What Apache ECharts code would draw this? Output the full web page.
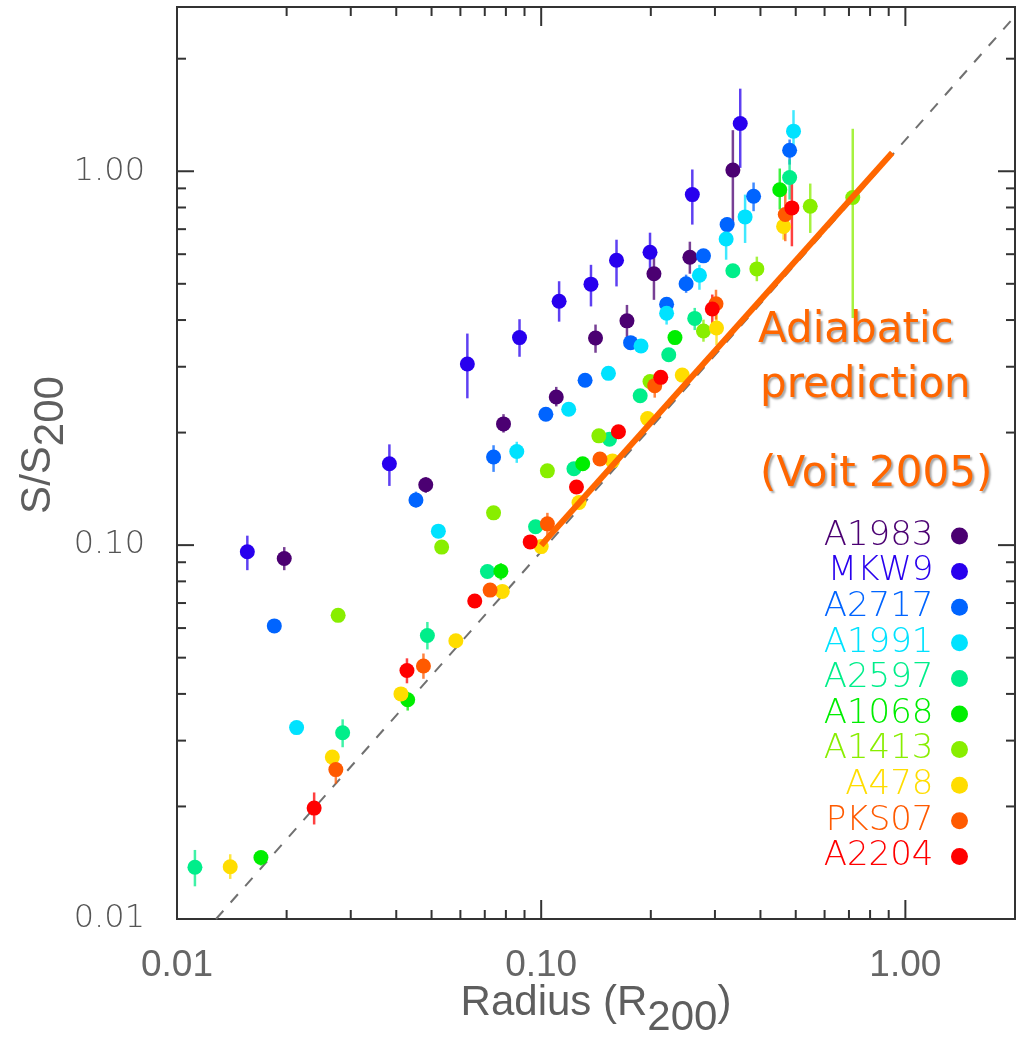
<!DOCTYPE html>
<html>
<head>
<meta charset="utf-8">
<script src="https://cdn.jsdelivr.net/npm/echarts@6/dist/echarts.min.js"></script>
<style>
  html, body { margin: 0; padding: 0; background: #ffffff; }
  #chart { width: 1020px; height: 1038px; }
</style>
</head>
<body>
<div id="chart"></div>
<script>
// Entropy profiles S/S200 versus radius r/R200 for ten clusters.
// Each entry: [radius, S/S200, lower end of error bar, upper end of error bar]
const A1983 = [
  [0.0197, 0.0921, 0.0857, 0.0988],
  [0.0482, 0.145, 0.138, 0.152],
  [0.0788, 0.211, 0.200, 0.224],
  [0.110, 0.249, 0.235, 0.265],
  [0.141, 0.358, 0.327, 0.389],
  [0.172, 0.398, 0.354, 0.439],
  [0.204, 0.532, 0.453, 0.592],
  [0.256, 0.589, 0.532, 0.648],
  [0.336, 1.007, 0.712, 1.288]
];
const MKW9 = [
  [0.0156, 0.0960, 0.0857, 0.106],
  [0.0383, 0.165, 0.144, 0.186],
  [0.0627, 0.305, 0.247, 0.368],
  [0.0872, 0.359, 0.319, 0.402],
  [0.112, 0.449, 0.396, 0.508],
  [0.137, 0.499, 0.435, 0.562],
  [0.161, 0.578, 0.492, 0.656],
  [0.199, 0.607, 0.539, 0.685],
  [0.260, 0.866, 0.720, 1.011],
  [0.352, 1.342, 1.021, 1.663]
];
const A2717 = [
  [0.0185, 0.0608, 0.0608, 0.0608],
  [0.0453, 0.132, 0.126, 0.139],
  [0.0740, 0.172, 0.157, 0.185],
  [0.103, 0.224, 0.224, 0.224],
  [0.132, 0.276, 0.276, 0.276],
  [0.176, 0.348, 0.348, 0.348],
  [0.221, 0.441, 0.441, 0.441],
  [0.250, 0.500, 0.473, 0.529],
  [0.279, 0.594, 0.594, 0.594],
  [0.324, 0.720, 0.690, 0.752],
  [0.383, 0.857, 0.782, 0.933],
  [0.481, 1.138, 1.042, 1.216]
];
const A1991 = [
  [0.0213, 0.0325, 0.0325, 0.0325],
  [0.0522, 0.109, 0.109, 0.109],
  [0.0857, 0.178, 0.166, 0.189],
  [0.119, 0.231, 0.231, 0.231],
  [0.153, 0.288, 0.288, 0.288],
  [0.188, 0.341, 0.341, 0.341],
  [0.221, 0.417, 0.389, 0.445],
  [0.272, 0.527, 0.482, 0.562],
  [0.322, 0.659, 0.580, 0.712],
  [0.363, 0.755, 0.643, 0.866],
  [0.493, 1.280, 1.143, 1.457]
];
const A2597 = [
  [0.0112, 0.01375, 0.01223, 0.0153],
  [0.0285, 0.0315, 0.0288, 0.0342],
  [0.0487, 0.0573, 0.0526, 0.0623],
  [0.0712, 0.0850, 0.0850, 0.0850],
  [0.0965, 0.112, 0.112, 0.112],
  [0.123, 0.160, 0.160, 0.160],
  [0.154, 0.192, 0.192, 0.192],
  [0.187, 0.251, 0.251, 0.251],
  [0.224, 0.323, 0.323, 0.323],
  [0.264, 0.404, 0.376, 0.431],
  [0.336, 0.542, 0.520, 0.565],
  [0.481, 0.962, 0.840, 1.075]
];
const A1068 = [
  [0.0170, 0.0146, 0.0139, 0.0152],
  [0.0430, 0.0386, 0.0361, 0.0405],
  [0.0775, 0.0852, 0.0806, 0.0895],
  [0.130, 0.165, 0.165, 0.165],
  [0.233, 0.359, 0.359, 0.359],
  [0.452, 0.892, 0.790, 1.017]
];
const A1413 = [
  [0.0277, 0.0649, 0.0649, 0.0649],
  [0.0533, 0.0988, 0.0988, 0.0988],
  [0.0740, 0.122, 0.122, 0.122],
  [0.104, 0.158, 0.158, 0.158],
  [0.144, 0.196, 0.196, 0.196],
  [0.199, 0.274, 0.274, 0.274],
  [0.279, 0.374, 0.350, 0.401],
  [0.391, 0.548, 0.508, 0.591],
  [0.548, 0.806, 0.684, 0.927],
  [0.717, 0.851, 0.405, 1.299]
];
const A478 = [
  [0.0140, 0.0138, 0.0128, 0.0149],
  [0.0267, 0.0271, 0.0271, 0.0271],
  [0.0412, 0.0400, 0.0400, 0.0400],
  [0.0583, 0.0555, 0.0555, 0.0555],
  [0.0782, 0.0752, 0.0752, 0.0752],
  [0.100, 0.0991, 0.0991, 0.0991],
  [0.127, 0.130, 0.130, 0.130],
  [0.157, 0.168, 0.168, 0.168],
  [0.196, 0.218, 0.218, 0.218],
  [0.244, 0.285, 0.285, 0.285],
  [0.303, 0.381, 0.343, 0.413],
  [0.463, 0.712, 0.656, 0.775]
];
const PKS07 = [
  [0.0273, 0.0251, 0.0230, 0.0271],
  [0.0475, 0.0475, 0.0439, 0.0513],
  [0.0724, 0.0758, 0.0758, 0.0758],
  [0.104, 0.114, 0.104, 0.122],
  [0.145, 0.170, 0.170, 0.170],
  [0.205, 0.267, 0.248, 0.287],
  [0.302, 0.442, 0.401, 0.482],
  [0.468, 0.766, 0.650, 0.884]
];
const A2204 = [
  [0.0238, 0.0198, 0.0179, 0.0218],
  [0.0428, 0.0462, 0.0427, 0.0498],
  [0.0657, 0.0709, 0.0709, 0.0709],
  [0.0933, 0.102, 0.102, 0.102],
  [0.125, 0.143, 0.143, 0.143],
  [0.163, 0.201, 0.201, 0.201],
  [0.213, 0.281, 0.281, 0.281],
  [0.295, 0.428, 0.389, 0.468],
  [0.488, 0.798, 0.630, 0.970]
];

const clusterNames = ['A1983', 'MKW9', 'A2717', 'A1991', 'A2597', 'A1068', 'A1413', 'A478', 'PKS07', 'A2204'];
const clusterData = [A1983, MKW9, A2717, A1991, A2597, A1068, A1413, A478, PKS07, A2204];
const clusterColors = ['#4B0072', '#2800EE', '#0064FF', '#00E2FF', '#00EE8A', '#00EE00', '#88EE00', '#FFDD00', '#FF5A00', '#FF0000'];

// Adiabatic (pure gravitational) entropy prediction and reference power law
const adiabaticLine = [[0.1, 0.1], [0.92, 1.12]];
const dashedLine = [[0.0128, 0.01], [2.0, 2.6]];

// Axis ranges and ticks
const X_MIN = 0.01, X_MAX = 2.0;
const Y_MIN = 0.01, Y_MAX = 2.75;
const majorTicks = [0.01, 0.1, 1];
const xMinorTicks = [0.02, 0.03, 0.04, 0.05, 0.06, 0.07, 0.08, 0.09, 0.2, 0.3, 0.4, 0.5, 0.6, 0.7, 0.8, 0.9];
const yMinorTicks = [0.02, 0.03, 0.04, 0.05, 0.06, 0.07, 0.08, 0.09, 0.2, 0.3, 0.4, 0.5, 0.6, 0.7, 0.8, 0.9, 2];
const tickLabels = { '-2': '0.01', '-1': '0.10', '0': '1.00' };

const AXIS_TEXT = '#5e5e5e';
const FONT = '"DejaVu Sans", "Liberation Sans", sans-serif';
const PLAIN = '"Liberation Sans", Arial, sans-serif';

function decadeLabel(v) {
  const lg = Math.log10(v);
  const e = Math.round(lg);
  if (Math.abs(lg - e) > 1e-6) return '';
  return tickLabels[String(e)] || '';
}

const chart = echarts.init(document.getElementById('chart'), null, { renderer: 'canvas' });

const series = [];

// frame ticks on all four sides, pointing inward
series.push({
  type: 'custom',
  name: 'ticks',
  coordinateSystem: 'cartesian2d',
  silent: true,
  z: 1,
  data: [[X_MIN, Y_MIN]],
  renderItem: function (params, api) {
    const bl = api.coord([X_MIN, Y_MIN]);
    const tr = api.coord([X_MAX, Y_MAX]);
    const kids = [];
    const seg = (x1, y1, x2, y2) => kids.push({
      type: 'line', shape: { x1, y1, x2, y2 },
      style: { stroke: '#333', lineWidth: 2 }
    });
    const xt = (v, len) => {
      const x = api.coord([v, Y_MIN])[0];
      seg(x, bl[1], x, bl[1] - len);
      seg(x, tr[1], x, tr[1] + len);
    };
    const yt = (v, len) => {
      const y = api.coord([X_MIN, v])[1];
      seg(bl[0], y, bl[0] + len, y);
      seg(tr[0], y, tr[0] - len, y);
    };
    majorTicks.forEach(v => { xt(v, 19); yt(v, 17); });
    xMinorTicks.forEach(v => xt(v, 9));
    yMinorTicks.forEach(v => yt(v, 9));
    return { type: 'group', children: kids };
  }
});

series.push({
  type: 'line',
  name: 'power law',
  data: dashedLine,
  showSymbol: false,
  silent: true,
  z: 2,
  lineStyle: { color: '#707070', width: 2, type: [11, 11] }
});

clusterData.forEach((pts, i) => {
  series.push({
    type: 'custom',
    name: clusterNames[i] + ' errors',
    coordinateSystem: 'cartesian2d',
    silent: true,
    z: 3,
    data: pts.map(p => [p[0], p[2], p[3]]),
    encode: { x: 0, y: [1, 2] },
    renderItem: function (params, api) {
      const lo = api.coord([api.value(0), api.value(1)]);
      const hi = api.coord([api.value(0), api.value(2)]);
      if (Math.abs(lo[1] - hi[1]) < 0.5) return null;
      return {
        type: 'line',
        shape: { x1: lo[0], y1: lo[1], x2: hi[0], y2: hi[1] },
        style: { stroke: clusterColors[i], lineWidth: 2.5, opacity: 0.75 }
      };
    }
  });
});

clusterData.forEach((pts, i) => {
  series.push({
    type: 'scatter',
    name: clusterNames[i],
    data: pts.map(p => [p[0], p[1]]),
    symbol: 'circle',
    symbolSize: 15,
    z: 4,
    itemStyle: { color: clusterColors[i], opacity: 1 }
  });
});

series.push({
  type: 'line',
  name: 'Adiabatic prediction',
  data: adiabaticLine,
  showSymbol: false,
  silent: true,
  z: 5,
  lineStyle: { color: '#FF6600', width: 6, cap: 'butt' }
});

const annotationStyle = (text) => ({
  text: text,
  fontSize: 42,
  fontFamily: FONT,
  fill: '#FF6600',
  align: 'left',
  verticalAlign: 'middle',
  textShadowColor: 'rgba(0,0,0,0.35)',
  textShadowBlur: 2,
  textShadowOffsetX: 2,
  textShadowOffsetY: 2
});

const option = {
  backgroundColor: '#ffffff',
  animation: false,
  grid: {
    left: 177, right: 5, top: 7, bottom: 119,
    containLabel: false,
    outerBoundsMode: 'none',
    show: true,
    borderColor: '#333',
    borderWidth: 2,
    backgroundColor: 'transparent'
  },
  xAxis: {
    type: 'log',
    logBase: 10,
    min: X_MIN,
    max: X_MAX,
    interval: 1,
    axisLine: { show: false },
    axisTick: { show: false },
    splitLine: { show: false },
    minorTick: { show: false },
    axisLabel: {
      margin: 28,
      fontSize: 37,
      fontFamily: PLAIN,
      color: '#666666',
      formatter: decadeLabel
    },
    name: 'Radius (R{sub|200})',
    nameLocation: 'middle',
    nameGap: 48,
    nameMoveOverlap: false,
    nameTextStyle: {
      fontSize: 42,
      fontFamily: PLAIN,
      color: AXIS_TEXT,
      rich: {
        sub: { fontSize: 42, fontFamily: PLAIN, color: AXIS_TEXT, padding: [30, 0, 0, 0] }
      }
    }
  },
  yAxis: {
    type: 'log',
    logBase: 10,
    min: Y_MIN,
    max: Y_MAX,
    interval: 1,
    axisLine: { show: false },
    axisTick: { show: false },
    splitLine: { show: false },
    minorTick: { show: false },
    axisLabel: {
      margin: 32,
      fontSize: 32,
      fontFamily: FONT,
      fontWeight: 200,
      color: '#555555',
      formatter: decadeLabel
    },
    name: 'S/S{sub|200}',
    nameLocation: 'middle',
    nameRotate: 90,
    nameGap: 105,
    nameMoveOverlap: false,
    nameTextStyle: {
      fontSize: 42,
      fontFamily: PLAIN,
      color: AXIS_TEXT,
      padding: [0, 0, 0, 36],
      rich: {
        sub: { fontSize: 42, fontFamily: PLAIN, color: AXIS_TEXT, padding: [26, 0, 0, 0] }
      }
    }
  },
  legend: {
    data: clusterNames.map((n, i) => ({
      name: n,
      icon: 'circle',
      textStyle: { color: clusterColors[i] }
    })),
    orient: 'vertical',
    align: 'right',
    right: 47,
    top: 514,
    itemWidth: 42,
    itemHeight: 17,
    itemGap: 1.6,
    selectedMode: false,
    textStyle: {
      fontSize: 34,
      lineHeight: 34,
      fontFamily: FONT,
      fontWeight: 200
    }
  },
  graphic: [
    { type: 'text', x: 758, y: 331, silent: true, style: annotationStyle('Adiabatic') },
    { type: 'text', x: 760, y: 386, silent: true, style: annotationStyle('prediction') },
    { type: 'text', x: 760, y: 475, silent: true, style: annotationStyle('(Voit 2005)') }
  ],
  series: series
};

chart.setOption(option);
</script>
</body>
</html>
